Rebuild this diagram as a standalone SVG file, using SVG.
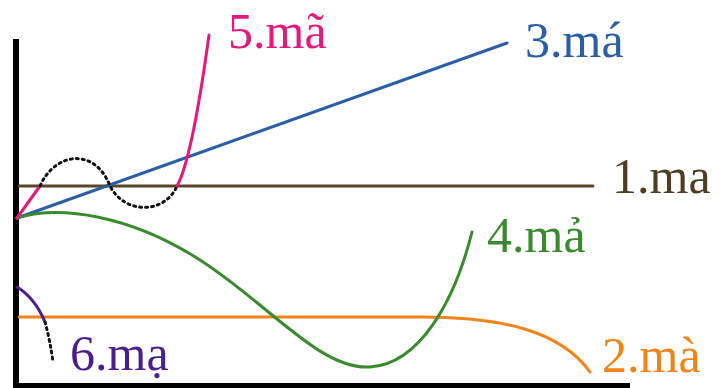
<svg xmlns="http://www.w3.org/2000/svg" width="719" height="388" viewBox="0 0 719 388">
<style>
.t{font-family:"Liberation Serif","Times New Roman",serif;font-size:50px}
.c{fill:none;stroke-width:3;stroke-linecap:round}
.d{fill:none;stroke:#111;stroke-width:3;stroke-dasharray:2 4;stroke-linecap:round}
</style>
<rect width="719" height="388" fill="#fff"/>
<g id="axes">
<rect x="13" y="39" width="6" height="349" fill="#000"/>
<rect x="13" y="383" width="617" height="5" fill="#000"/>
</g>
<g id="connectors">
<path class="c" stroke="#5a4526" d="M19,186 H593"/>
<path class="c" stroke="#f08418" d="M19,317 H420 C500,317 560,330 590,372"/>
<path class="c" stroke="#2a5fa8" d="M17,218 L507,43"/>
<path class="c" stroke="#3a8a2e" d="M17,218 C60,205 130,215 200,260 S320,370 370,367 S455,300 472,232"/>
<path class="c" stroke="#e3197c" d="M17,218 Q30,200 40,186"/>
<path class="d" d="M40,186 C55,152 95,147 110,186 C125,215 165,214 177,186"/>
<path class="c" stroke="#e3197c" d="M177,186 C186,170 196,130 209,35"/>
<path class="c" stroke="#4a1f8c" d="M17,287 Q35,298 45,322"/>
<path class="d" d="M45,322 Q50,340 53,362"/>
</g>
<g id="n1"><text class="t" x="612" y="193" fill="#4e3d22">1.ma</text></g>
<g id="n2"><text class="t" x="602" y="372" fill="#f08418">2.mà</text></g>
<g id="n3"><text class="t" x="525" y="57" fill="#2a5fa8">3.má</text></g>
<g id="n4"><text class="t" x="487" y="252" fill="#3a8a2e">4.mả</text></g>
<g id="n5"><text class="t" x="228" y="48" fill="#e3197c">5.mã</text></g>
<g id="n6"><text class="t" x="70" y="370" fill="#4a1f8c">6.mạ</text></g>
</svg>
